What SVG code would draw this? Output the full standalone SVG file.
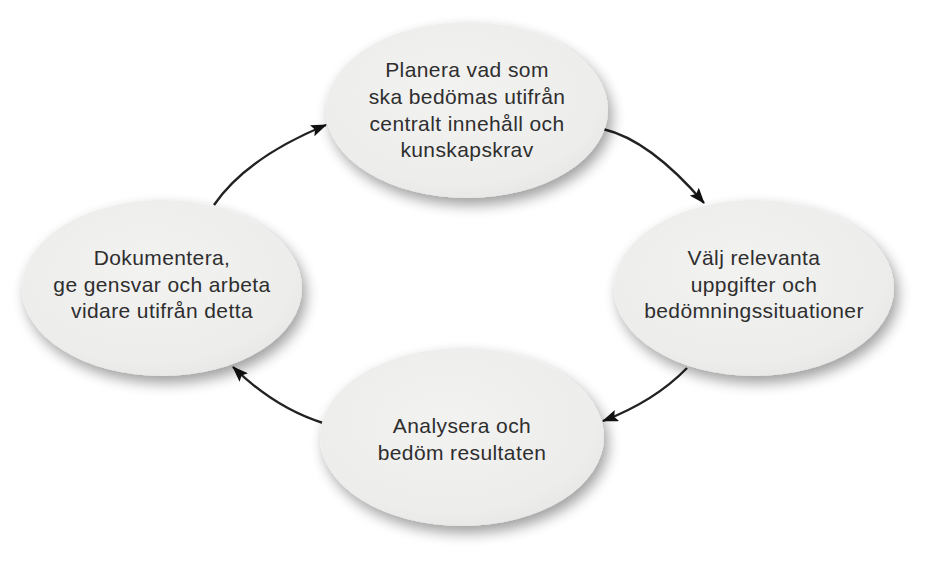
<svg xmlns="http://www.w3.org/2000/svg" width="932" height="565" viewBox="0 0 932 565">
  <defs>
    <style>
      .node { fill: url(#g); filter: url(#sh); }
      .lbl { font-family: "Liberation Sans", Arial, sans-serif; font-size: 21px; letter-spacing: 0.4px; fill: #2e2e2e; text-anchor: middle; }
      .conn { fill: none; stroke: #222222; stroke-width: 2.4; marker-end: url(#arr); }
    </style>
    <radialGradient id="g" cx="0.45" cy="0.4" r="0.65">
      <stop offset="0" stop-color="#f2f2f1"/>
      <stop offset="0.8" stop-color="#ededec"/>
      <stop offset="1" stop-color="#e6e6e5"/>
    </radialGradient>
    <filter id="sh" x="-20%" y="-20%" width="140%" height="150%">
      <feGaussianBlur in="SourceAlpha" stdDeviation="7"/>
      <feOffset dx="4" dy="7" result="b"/>
      <feComponentTransfer in="b" result="s">
        <feFuncA type="linear" slope="0.38"/>
      </feComponentTransfer>
      <feMerge>
        <feMergeNode in="s"/>
        <feMergeNode in="SourceGraphic"/>
      </feMerge>
    </filter>
    <marker id="arr" viewBox="0 0 16 12" refX="15" refY="6" markerWidth="16" markerHeight="12" markerUnits="userSpaceOnUse" orient="auto">
      <path d="M0,0 L16,6 L0,12 L3,6 Z" fill="#111111"/>
    </marker>
  </defs>
  <rect width="932" height="565" fill="#ffffff"/>

  <g id="connectors">
    <path class="conn" d="M603,129 Q650,140 704,203"/>
    <path class="conn" d="M687,368 Q655,401 603,421"/>
    <path class="conn" d="M323,423 Q275,408 233,367"/>
    <path class="conn" d="M214,205 Q246,158 326,125"/>
  </g>

  <g id="node-plan">
    <ellipse class="node" cx="467" cy="110" rx="141" ry="88"/>
    <text class="lbl" x="467" y="77">Planera vad som</text>
    <text class="lbl" x="467" y="104">ska bedömas utifrån</text>
    <text class="lbl" x="467" y="131">centralt innehåll och</text>
    <text class="lbl" x="467" y="157">kunskapskrav</text>
  </g>

  <g id="node-valj">
    <ellipse class="node" cx="754" cy="288" rx="140" ry="88"/>
    <text class="lbl" x="754" y="265">Välj relevanta</text>
    <text class="lbl" x="754" y="292">uppgifter och</text>
    <text class="lbl" x="754" y="318">bedömningssituationer</text>
  </g>

  <g id="node-analysera">
    <ellipse class="node" cx="462" cy="437" rx="142" ry="89"/>
    <text class="lbl" x="462" y="433">Analysera och</text>
    <text class="lbl" x="462" y="460">bedöm resultaten</text>
  </g>

  <g id="node-dokumentera">
    <ellipse class="node" cx="162" cy="288" rx="140" ry="88"/>
    <text class="lbl" x="162" y="265">Dokumentera,</text>
    <text class="lbl" x="162" y="292">ge gensvar och arbeta</text>
    <text class="lbl" x="162" y="318">vidare utifrån detta</text>
  </g>
</svg>
